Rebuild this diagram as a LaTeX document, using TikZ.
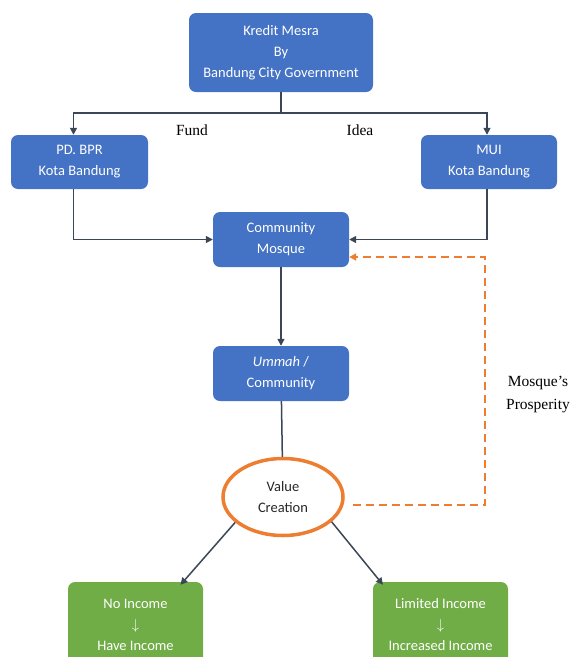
\documentclass[tikz,border=0pt]{standalone}
\usepackage{fontspec}
\setmainfont{Liberation Serif}
\newfontfamily\carlito{Carlito}
\usetikzlibrary{arrows.meta,shapes.geometric}
\definecolor{boxblue}{HTML}{4472C4}
\definecolor{boxgreen}{HTML}{70AD47}
\definecolor{accent}{HTML}{ED7D31}
\definecolor{linec}{HTML}{3B4757}
\definecolor{darktext}{HTML}{262626}
\begin{document}
\begin{tikzpicture}[x=1pt,y=-1pt,
  box/.style={fill=boxblue, draw=none, rounded corners=7pt, text=white, align=center,
    font=\carlito\fontsize{14.5}{21}\selectfont, inner sep=0pt},
  greenbox/.style={box, fill=boxgreen},
  conn/.style={draw=linec, line width=1.5pt},
  tip/.style={-{Triangle[length=7pt,width=7pt]}},
  feedback/.style={draw=accent, line width=2pt, dash pattern=on 8pt off 5pt, -{Triangle[length=7pt,width=7pt]}},
  lbl/.style={font=\fontsize{15.5}{23}\selectfont, align=center, text=black, inner sep=0pt}]
\useasboundingbox (0,0) rectangle (572,657);

\node[box, minimum width=184pt, minimum height=79pt] (kredit) at (281,52.5) {Kredit Mesra\\By\\Bandung City Government};
\node[box, minimum width=137pt, minimum height=54pt] (pd) at (79.5,162) {PD. BPR\\Kota Bandung};
\node[box, minimum width=136pt, minimum height=54pt] (mui) at (489,162) {MUI\\Kota Bandung};
\node[box, minimum width=136pt, minimum height=55pt] (mosque) at (281,239.5) {Community\\Mosque};
\node[box, minimum width=136pt, minimum height=55pt] (ummah) at (281,373.5) {\textit{Ummah} /\\Community};
\node[ellipse, draw=accent, line width=3.5pt, minimum width=120pt, minimum height=77pt, inner sep=0pt,
  align=center, text=darktext, font=\carlito\fontsize{14.5}{21}\selectfont] (vc) at (283,497) {Value\\Creation};
\node[greenbox, minimum width=135pt, minimum height=86pt] (noinc) at (135.5,625) {No Income\\$\downarrow$\\Have Income};
\node[greenbox, minimum width=135pt, minimum height=86pt] (liminc) at (440.5,625) {Limited Income\\$\downarrow$\\Increased Income};

\node[lbl] (fund) at (192,130) {Fund};
\node[lbl] (idea) at (360,130) {Idea};
\node[lbl] (prosp) at (538,395) {Mosque’s\\Prosperity};

\coordinate (j) at (281,113);
\draw[conn] (kredit.south) -- (j);
\draw[conn, tip] (j) -| ([xshift=-6pt]pd.north);
\draw[conn, tip] (j) -| ([xshift=-2pt]mui.north);
\draw[conn, tip] ([xshift=-6pt]pd.south) |- (mosque.west);
\draw[conn, tip] ([xshift=-2pt]mui.south) |- (mosque.east);
\draw[conn, tip] (mosque) -- (ummah);
\draw[conn] (ummah) -- (vc);
\draw[conn, tip] (vc.208) -- ([xshift=45pt,yshift=-3pt]noinc.north);
\draw[conn, tip] (vc.333) -- ([xshift=-57.5pt,yshift=-3pt]liminc.north);

\coordinate (d1) at (353,505);
\coordinate (d2) at (485,505);
\coordinate (d3) at (485,257);
\draw[feedback] (d1) -- (d2) -- (d3) -- (mosque.east |- d3);
\end{tikzpicture}
\end{document}
